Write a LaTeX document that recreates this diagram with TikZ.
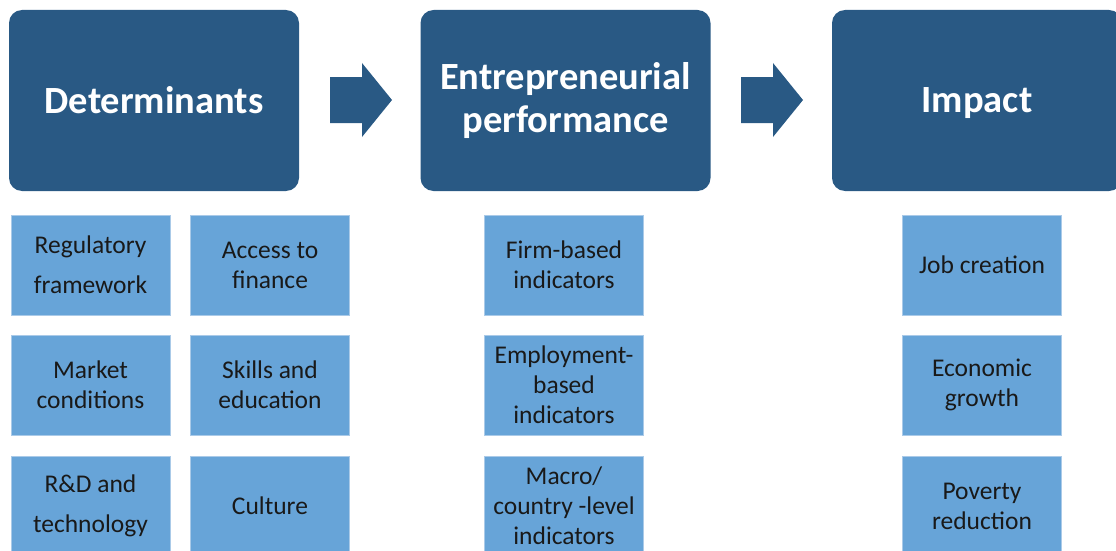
\documentclass[tikz,border=0pt]{standalone}
\usepackage{fontspec}
\setmainfont{Carlito}
\usetikzlibrary{positioning}

\definecolor{headblue}{RGB}{41,89,132}
\definecolor{itemblue}{RGB}{103,164,216}
\definecolor{itemline}{RGB}{170,202,232}
\definecolor{itemtext}{RGB}{25,25,25}

\tikzset{
    headbox/.style={fill=headblue, rounded corners=13pt, minimum width=290pt,
        minimum height=181pt, text=white, align=center, inner sep=0pt,
        font=\fontsize{38.5}{43}\selectfont\bfseries},
    itembox/.style={fill=itemblue, draw=itemline, line width=0.8pt,
        minimum width=159pt, minimum height=100pt, text=itemtext, align=center,
        inner sep=0pt, font=\fontsize{25.5}{30}\selectfont},
    flowarrow/.style={fill=headblue}
}

\begin{document}
\begin{tikzpicture}[x=1pt,y=-1pt]
    \useasboundingbox (0,0) rectangle (1116,551);
    \clip (0,0) rectangle (1116,551);
    % headline boxes
    \node [headbox] (det) at (154,100.5) {Determinants};
    \node [headbox] (perf) at (565.5,100.5) {Entrepreneurial\\performance};
    \node [headbox, text depth=0pt] (imp) at (977,100.5) {Impact};
    % block arrows between them
    \fill [flowarrow] (330,77) -- (362,77) -- (362,63) -- (392,100) -- (362,137) -- (362,123) -- (330,123) -- cycle;
    \fill [flowarrow] (741,77) -- (773,77) -- (773,63) -- (803,100) -- (773,137) -- (773,123) -- (741,123) -- cycle;
    % determinants
    \node [itembox] (reg) at (90.5,265) {Regulatory\\[10pt]framework};
    \node [itembox] (fin) at (270,265) {Access to\\finance};
    \node [itembox] (mkt) at (90.5,385) {Market\\conditions};
    \node [itembox] (edu) at (270,385) {Skills and\\education};
    \node [itembox] (rnd) at (90.5,506) {R\&D and\\[10pt]technology};
    \node [itembox] (cul) at (270,506) {Culture};
    % performance indicators
    \node [itembox] (firm) at (564,265) {Firm-based\\indicators};
    \node [itembox] (emp) at (564,385) {Employment-\\based\\indicators};
    \node [itembox] (macro) at (564,506) {Macro/\\country -level\\indicators};
    % impact
    \node [itembox] (job) at (982,265) {Job creation};
    \node [itembox] (grow) at (982,385) {Economic\\growth};
    \node [itembox] (pov) at (982,506) {Poverty\\reduction};
\end{tikzpicture}
\end{document}
